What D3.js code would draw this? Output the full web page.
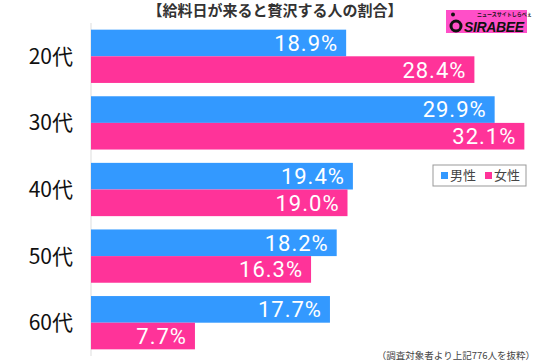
<!DOCTYPE html>
<html>
<head>
<meta charset="utf-8">
<script src="https://cdn.jsdelivr.net/npm/d3@7"></script>
<style>
  body { margin: 0; background: #fff; }
  svg { display: block; font-family: "Noto Sans CJK JP", "Noto Sans", sans-serif; }
</style>
</head>
<body>
<div id="chart"></div>
<script>
var ages = ["20代", "30代", "40代", "50代", "60代"];
var male = [18.9, 29.9, 19.4, 18.2, 17.7];
var female = [28.4, 32.1, 19.0, 16.3, 7.7];
var seriesNames = ["男性", "女性"];
var colors = ["#3399ff", "#ff3399"];

var width = 550, height = 364;

var svg = d3.select("#chart").append("svg")
    .attr("width", width)
    .attr("height", height);

var y = d3.scaleBand()
    .domain(ages)
    .range([23, 356])
    .paddingInner(0.2)
    .paddingOuter(0.1);

var sub = d3.scaleBand()
    .domain(seriesNames)
    .range([0, y.bandwidth()]);

var x = d3.scaleLinear()
    .domain([0, 35])
    .range([91, 91 + 35 * 13.5]);

var fmt = d3.format(".1f");

// title
svg.append("text")
    .attr("x", 275)
    .attr("y", 16)
    .attr("text-anchor", "middle")
    .attr("font-size", "15px")
    .attr("font-weight", "bold")
    .attr("fill", "#333")
    .text("【給料日が来ると贅沢する人の割合】");

// axis line
svg.append("line")
    .attr("x1", x(0)).attr("x2", x(0))
    .attr("y1", 23).attr("y2", 356)
    .attr("stroke", "#ddd")
    .attr("stroke-width", 1);

var rows = ages.map(function(a, i) {
  return {age: a, values: [male[i], female[i]]};
});

var group = svg.selectAll(".grp")
    .data(rows)
    .enter().append("g")
    .attr("class", "grp")
    .attr("transform", function(d) { return "translate(0," + y(d.age) + ")"; });

group.selectAll("rect")
    .data(function(d) { return d.values.map(function(v, j) { return {v: v, j: j}; }); })
    .enter().append("rect")
    .attr("x", x(0))
    .attr("y", function(d) { return sub(seriesNames[d.j]); })
    .attr("width", function(d) { return x(d.v) - x(0); })
    .attr("height", sub.bandwidth())
    .attr("fill", function(d) { return colors[d.j]; });

group.selectAll(".val")
    .data(function(d) { return d.values.map(function(v, j) { return {v: v, j: j}; }); })
    .enter().append("text")
    .attr("class", "val")
    .attr("x", function(d) { return x(d.v) - 8; })
    .attr("y", function(d) { return sub(seriesNames[d.j]) + sub.bandwidth() / 2; })
    .attr("dy", "0.36em")
    .attr("text-anchor", "end")
    .attr("font-family", "Roboto, sans-serif")
    .attr("font-size", "22px")
    .attr("letter-spacing", "1px")
    .attr("fill", "#fff")
    .text(function(d) { return fmt(d.v) + "%"; });

group.append("text")
    .attr("x", 73)
    .attr("y", y.bandwidth() / 2)
    .attr("dy", "0.36em")
    .attr("text-anchor", "end")
    .attr("font-size", "21px")
    .attr("fill", "#111")
    .text(function(d) { return d.age; });

// legend
var legend = svg.append("g").attr("transform", "translate(433,165)");
legend.append("rect")
    .attr("width", 93).attr("height", 21)
    .attr("fill", "#fff")
    .attr("stroke", "#999");
var legendX = [8, 52];
seriesNames.forEach(function(n, i) {
  legend.append("rect")
      .attr("x", legendX[i]).attr("y", 7)
      .attr("width", 7).attr("height", 7)
      .attr("fill", colors[i]);
  legend.append("text")
      .attr("x", legendX[i] + 9).attr("y", 10.5)
      .attr("dy", "0.36em")
      .attr("font-size", "13px")
      .attr("fill", "#444")
      .text(n);
});

// logo
var logo = svg.append("g").attr("transform", "translate(446,10)");
logo.append("rect")
    .attr("width", 81).attr("height", 23)
    .attr("fill", "#ff4fc8");
logo.append("text")
    .attr("x", 31).attr("y", 5.5)
    .attr("font-size", "5px")
    .attr("font-weight", "bold")
    .attr("fill", "#111")
    .text("ニュースサイトしらべぇ");
logo.append("circle")
    .attr("cx", 10).attr("cy", 16).attr("r", 5)
    .attr("fill", "none").attr("stroke", "#111").attr("stroke-width", 3);
logo.append("circle")
    .attr("cx", 7).attr("cy", 4.5).attr("r", 2)
    .attr("fill", "#111");
logo.append("text")
    .attr("x", 18).attr("y", 21.5)
    .attr("font-family", "Liberation Sans, sans-serif")
    .attr("font-size", "14px")
    .attr("font-weight", "bold")
    .attr("font-style", "italic")
    .attr("fill", "#111")
    .attr("textLength", 60)
    .text("SIRABEE");

// footnote
svg.append("text")
    .attr("x", 535)
    .attr("y", 359)
    .attr("text-anchor", "end")
    .attr("font-size", "9.5px")
    .attr("fill", "#444")
    .text("（調査対象者より上記776人を抜粋）");
</script>
</body>
</html>
